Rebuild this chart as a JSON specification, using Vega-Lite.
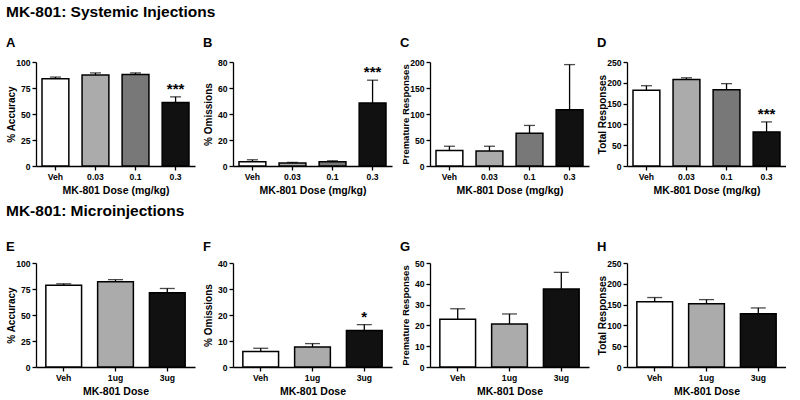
{
  "$schema": "https://vega.github.io/schema/vega-lite/v6.json",
  "padding": {"left": 6, "top": 4, "right": 0, "bottom": 0},
  "config": {
    "view": {"stroke": null},
    "font": "Liberation Sans",
    "axis": {
      "domainColor": "black", "domainWidth": 1.3, "tickColor": "black", "tickWidth": 1.3, "tickSize": 4,
      "labelFont": "Liberation Sans", "labelFontWeight": "bold", "labelFontSize": 8.6, "labelColor": "black", "labelPadding": 2,
      "titleFont": "Liberation Sans", "titleFontWeight": "bold", "titleFontSize": 10.5, "titleColor": "black",
      "grid": false
    },
    "axisX": {"labelAngle": 0, "titlePadding": 5},
    "title": {"font": "Liberation Sans", "fontWeight": "bold", "color": "black", "anchor": "start"}
  },
  "data": {"values": [
    {"panel": "A", "dose": "Veh", "mean": 84, "upper": 85.5, "sig": ""},
    {"panel": "A", "dose": "0.03", "mean": 87.5, "upper": 89.5, "sig": ""},
    {"panel": "A", "dose": "0.1", "mean": 88, "upper": 89.5, "sig": ""},
    {"panel": "A", "dose": "0.3", "mean": 61, "upper": 66.5, "sig": "***"},
    {"panel": "B", "dose": "Veh", "mean": 3.3, "upper": 4.8, "sig": ""},
    {"panel": "B", "dose": "0.03", "mean": 2.3, "upper": 2.8, "sig": ""},
    {"panel": "B", "dose": "0.1", "mean": 3.2, "upper": 4.0, "sig": ""},
    {"panel": "B", "dose": "0.3", "mean": 48.5, "upper": 66, "sig": "***"},
    {"panel": "C", "dose": "Veh", "mean": 30, "upper": 38, "sig": ""},
    {"panel": "C", "dose": "0.03", "mean": 29, "upper": 38, "sig": ""},
    {"panel": "C", "dose": "0.1", "mean": 63, "upper": 78, "sig": ""},
    {"panel": "C", "dose": "0.3", "mean": 108, "upper": 195, "sig": ""},
    {"panel": "D", "dose": "Veh", "mean": 182, "upper": 193, "sig": ""},
    {"panel": "D", "dose": "0.03", "mean": 208, "upper": 212, "sig": ""},
    {"panel": "D", "dose": "0.1", "mean": 183, "upper": 198, "sig": ""},
    {"panel": "D", "dose": "0.3", "mean": 82, "upper": 106, "sig": "***"},
    {"panel": "E", "dose": "Veh", "mean": 78.5, "upper": 80, "sig": ""},
    {"panel": "E", "dose": "1ug", "mean": 82, "upper": 84, "sig": ""},
    {"panel": "E", "dose": "3ug", "mean": 71.5, "upper": 75.5, "sig": ""},
    {"panel": "F", "dose": "Veh", "mean": 6, "upper": 7.2, "sig": ""},
    {"panel": "F", "dose": "1ug", "mean": 7.7, "upper": 9, "sig": ""},
    {"panel": "F", "dose": "3ug", "mean": 14, "upper": 16.3, "sig": "*"},
    {"panel": "G", "dose": "Veh", "mean": 23, "upper": 28, "sig": ""},
    {"panel": "G", "dose": "1ug", "mean": 20.7, "upper": 25.5, "sig": ""},
    {"panel": "G", "dose": "3ug", "mean": 37.5, "upper": 45.5, "sig": ""},
    {"panel": "H", "dose": "Veh", "mean": 157, "upper": 167, "sig": ""},
    {"panel": "H", "dose": "1ug", "mean": 152, "upper": 162, "sig": ""},
    {"panel": "H", "dose": "3ug", "mean": 128, "upper": 142, "sig": ""}
  ]},
  "vconcat": [
    {
      "title": {"text": "MK-801: Systemic Injections", "fontSize": 15.5, "offset": 17},
      "spacing": 8,
      "hconcat": [
        {
          "title": {"text": "A", "fontSize": 13, "frame": "bounds", "offset": 8},
          "width": 159, "height": 104,
          "transform": [{"filter": "datum.panel === 'A'"}],
          "encoding": {"x": {"field": "dose", "type": "nominal", "sort": ["Veh", "0.03", "0.1", "0.3"], "scale": {"paddingInner": 0.33, "paddingOuter": 0.15}, "axis": {"title": "MK-801 Dose (mg/kg)"}}},
          "layer": [
            {"mark": {"type": "bar", "stroke": "black", "strokeWidth": 1.5},
             "encoding": {"y": {"field": "mean", "type": "quantitative", "scale": {"domain": [0, 100], "nice": false}, "axis": {"title": "% Accuracy", "titleFontSize": 10, "values": [0, 25, 50, 75, 100], "minExtent": 18, "maxExtent": 18, "titlePadding": 2}},
               "fill": {"field": "dose", "type": "nominal", "legend": null, "scale": {"domain": ["Veh", "0.03", "0.1", "0.3", "1ug", "3ug"], "range": ["#ffffff", "#ababab", "#787878", "#111111", "#ababab", "#111111"]}}}},
            {"mark": {"type": "rule", "color": "black", "strokeWidth": 1.3}, "encoding": {"y": {"field": "mean", "type": "quantitative", "axis": {"title": "% Accuracy", "titleFontSize": 10, "values": [0, 25, 50, 75, 100], "minExtent": 18, "maxExtent": 18, "titlePadding": 2}}, "y2": {"field": "upper"}}},
            {"mark": {"type": "tick", "color": "black", "thickness": 1.3, "size": 11}, "encoding": {"y": {"field": "upper", "type": "quantitative", "axis": {"title": "% Accuracy", "titleFontSize": 10, "values": [0, 25, 50, 75, 100], "minExtent": 18, "maxExtent": 18, "titlePadding": 2}}}},
            {"transform": [{"filter": "datum.sig !== ''"}], "mark": {"type": "text", "fontSize": 15, "fontWeight": "bold", "baseline": "alphabetic", "dy": -3, "color": "black"}, "encoding": {"y": {"field": "upper", "type": "quantitative", "axis": {"title": "% Accuracy", "titleFontSize": 10, "values": [0, 25, 50, 75, 100], "minExtent": 18, "maxExtent": 18, "titlePadding": 2}}, "text": {"field": "sig"}}}
          ]
        },
        {
          "title": {"text": "B", "fontSize": 13, "frame": "bounds", "offset": 8},
          "width": 159, "height": 104,
          "transform": [{"filter": "datum.panel === 'B'"}],
          "encoding": {"x": {"field": "dose", "type": "nominal", "sort": ["Veh", "0.03", "0.1", "0.3"], "scale": {"paddingInner": 0.33, "paddingOuter": 0.15}, "axis": {"title": "MK-801 Dose (mg/kg)"}}},
          "layer": [
            {"mark": {"type": "bar", "stroke": "black", "strokeWidth": 1.5},
             "encoding": {"y": {"field": "mean", "type": "quantitative", "scale": {"domain": [0, 80], "nice": false}, "axis": {"title": "% Omissions", "titleFontSize": 10, "values": [0, 20, 40, 60, 80], "minExtent": 18, "maxExtent": 18, "titlePadding": 2}},
               "fill": {"field": "dose", "type": "nominal", "legend": null, "scale": {"domain": ["Veh", "0.03", "0.1", "0.3", "1ug", "3ug"], "range": ["#ffffff", "#ababab", "#787878", "#111111", "#ababab", "#111111"]}}}},
            {"mark": {"type": "rule", "color": "black", "strokeWidth": 1.3}, "encoding": {"y": {"field": "mean", "type": "quantitative", "axis": {"title": "% Omissions", "titleFontSize": 10, "values": [0, 20, 40, 60, 80], "minExtent": 18, "maxExtent": 18, "titlePadding": 2}}, "y2": {"field": "upper"}}},
            {"mark": {"type": "tick", "color": "black", "thickness": 1.3, "size": 11}, "encoding": {"y": {"field": "upper", "type": "quantitative", "axis": {"title": "% Omissions", "titleFontSize": 10, "values": [0, 20, 40, 60, 80], "minExtent": 18, "maxExtent": 18, "titlePadding": 2}}}},
            {"transform": [{"filter": "datum.sig !== ''"}], "mark": {"type": "text", "fontSize": 15, "fontWeight": "bold", "baseline": "alphabetic", "dy": -3, "color": "black"}, "encoding": {"y": {"field": "upper", "type": "quantitative", "axis": {"title": "% Omissions", "titleFontSize": 10, "values": [0, 20, 40, 60, 80], "minExtent": 18, "maxExtent": 18, "titlePadding": 2}}, "text": {"field": "sig"}}}
          ]
        },
        {
          "title": {"text": "C", "fontSize": 13, "frame": "bounds", "offset": 8},
          "width": 159, "height": 104,
          "transform": [{"filter": "datum.panel === 'C'"}],
          "encoding": {"x": {"field": "dose", "type": "nominal", "sort": ["Veh", "0.03", "0.1", "0.3"], "scale": {"paddingInner": 0.33, "paddingOuter": 0.15}, "axis": {"title": "MK-801 Dose (mg/kg)"}}},
          "layer": [
            {"mark": {"type": "bar", "stroke": "black", "strokeWidth": 1.5},
             "encoding": {"y": {"field": "mean", "type": "quantitative", "scale": {"domain": [0, 200], "nice": false}, "axis": {"title": "Premature Responses", "titleFontSize": 9.5, "values": [0, 50, 100, 150, 200], "minExtent": 18, "maxExtent": 18, "titlePadding": 2}},
               "fill": {"field": "dose", "type": "nominal", "legend": null, "scale": {"domain": ["Veh", "0.03", "0.1", "0.3", "1ug", "3ug"], "range": ["#ffffff", "#ababab", "#787878", "#111111", "#ababab", "#111111"]}}}},
            {"mark": {"type": "rule", "color": "black", "strokeWidth": 1.3}, "encoding": {"y": {"field": "mean", "type": "quantitative", "axis": {"title": "Premature Responses", "titleFontSize": 9.5, "values": [0, 50, 100, 150, 200], "minExtent": 18, "maxExtent": 18, "titlePadding": 2}}, "y2": {"field": "upper"}}},
            {"mark": {"type": "tick", "color": "black", "thickness": 1.3, "size": 11}, "encoding": {"y": {"field": "upper", "type": "quantitative", "axis": {"title": "Premature Responses", "titleFontSize": 9.5, "values": [0, 50, 100, 150, 200], "minExtent": 18, "maxExtent": 18, "titlePadding": 2}}}}
          ]
        },
        {
          "title": {"text": "D", "fontSize": 13, "frame": "bounds", "offset": 8},
          "width": 159, "height": 104,
          "transform": [{"filter": "datum.panel === 'D'"}],
          "encoding": {"x": {"field": "dose", "type": "nominal", "sort": ["Veh", "0.03", "0.1", "0.3"], "scale": {"paddingInner": 0.33, "paddingOuter": 0.15}, "axis": {"title": "MK-801 Dose (mg/kg)"}}},
          "layer": [
            {"mark": {"type": "bar", "stroke": "black", "strokeWidth": 1.5},
             "encoding": {"y": {"field": "mean", "type": "quantitative", "scale": {"domain": [0, 250], "nice": false}, "axis": {"title": "Total Responses", "titleFontSize": 10, "values": [0, 50, 100, 150, 200, 250], "minExtent": 18, "maxExtent": 18, "titlePadding": 2}},
               "fill": {"field": "dose", "type": "nominal", "legend": null, "scale": {"domain": ["Veh", "0.03", "0.1", "0.3", "1ug", "3ug"], "range": ["#ffffff", "#ababab", "#787878", "#111111", "#ababab", "#111111"]}}}},
            {"mark": {"type": "rule", "color": "black", "strokeWidth": 1.3}, "encoding": {"y": {"field": "mean", "type": "quantitative", "axis": {"title": "Total Responses", "titleFontSize": 10, "values": [0, 50, 100, 150, 200, 250], "minExtent": 18, "maxExtent": 18, "titlePadding": 2}}, "y2": {"field": "upper"}}},
            {"mark": {"type": "tick", "color": "black", "thickness": 1.3, "size": 11}, "encoding": {"y": {"field": "upper", "type": "quantitative", "axis": {"title": "Total Responses", "titleFontSize": 10, "values": [0, 50, 100, 150, 200, 250], "minExtent": 18, "maxExtent": 18, "titlePadding": 2}}}},
            {"transform": [{"filter": "datum.sig !== ''"}], "mark": {"type": "text", "fontSize": 15, "fontWeight": "bold", "baseline": "alphabetic", "dy": -3, "color": "black"}, "encoding": {"y": {"field": "upper", "type": "quantitative", "axis": {"title": "Total Responses", "titleFontSize": 10, "values": [0, 50, 100, 150, 200, 250], "minExtent": 18, "maxExtent": 18, "titlePadding": 2}}, "text": {"field": "sig"}}}
          ]
        }
      ]
    },
    {
      "title": {"text": "MK-801: Microinjections", "fontSize": 15.5, "offset": 22},
      "spacing": 8,
      "hconcat": [
        {
          "title": {"text": "E", "fontSize": 13, "frame": "bounds", "offset": 5},
          "width": 159, "height": 104,
          "transform": [{"filter": "datum.panel === 'E'"}],
          "encoding": {"x": {"field": "dose", "type": "nominal", "sort": ["Veh", "1ug", "3ug"], "scale": {"paddingInner": 0.31, "paddingOuter": 0.19}, "axis": {"title": "MK-801 Dose"}}},
          "layer": [
            {"mark": {"type": "bar", "stroke": "black", "strokeWidth": 1.5},
             "encoding": {"y": {"field": "mean", "type": "quantitative", "scale": {"domain": [0, 100], "nice": false}, "axis": {"title": "% Accuracy", "titleFontSize": 10, "values": [0, 25, 50, 75, 100], "minExtent": 18, "maxExtent": 18, "titlePadding": 2}},
               "fill": {"field": "dose", "type": "nominal", "legend": null, "scale": {"domain": ["Veh", "0.03", "0.1", "0.3", "1ug", "3ug"], "range": ["#ffffff", "#ababab", "#787878", "#111111", "#ababab", "#111111"]}}}},
            {"mark": {"type": "rule", "color": "black", "strokeWidth": 1.3}, "encoding": {"y": {"field": "mean", "type": "quantitative", "axis": {"title": "% Accuracy", "titleFontSize": 10, "values": [0, 25, 50, 75, 100], "minExtent": 18, "maxExtent": 18, "titlePadding": 2}}, "y2": {"field": "upper"}}},
            {"mark": {"type": "tick", "color": "black", "thickness": 1.3, "size": 15}, "encoding": {"y": {"field": "upper", "type": "quantitative", "axis": {"title": "% Accuracy", "titleFontSize": 10, "values": [0, 25, 50, 75, 100], "minExtent": 18, "maxExtent": 18, "titlePadding": 2}}}}
          ]
        },
        {
          "title": {"text": "F", "fontSize": 13, "frame": "bounds", "offset": 5},
          "width": 159, "height": 104,
          "transform": [{"filter": "datum.panel === 'F'"}],
          "encoding": {"x": {"field": "dose", "type": "nominal", "sort": ["Veh", "1ug", "3ug"], "scale": {"paddingInner": 0.31, "paddingOuter": 0.19}, "axis": {"title": "MK-801 Dose"}}},
          "layer": [
            {"mark": {"type": "bar", "stroke": "black", "strokeWidth": 1.5},
             "encoding": {"y": {"field": "mean", "type": "quantitative", "scale": {"domain": [0, 40], "nice": false}, "axis": {"title": "% Omissions", "titleFontSize": 10, "values": [0, 10, 20, 30, 40], "minExtent": 18, "maxExtent": 18, "titlePadding": 2}},
               "fill": {"field": "dose", "type": "nominal", "legend": null, "scale": {"domain": ["Veh", "0.03", "0.1", "0.3", "1ug", "3ug"], "range": ["#ffffff", "#ababab", "#787878", "#111111", "#ababab", "#111111"]}}}},
            {"mark": {"type": "rule", "color": "black", "strokeWidth": 1.3}, "encoding": {"y": {"field": "mean", "type": "quantitative", "axis": {"title": "% Omissions", "titleFontSize": 10, "values": [0, 10, 20, 30, 40], "minExtent": 18, "maxExtent": 18, "titlePadding": 2}}, "y2": {"field": "upper"}}},
            {"mark": {"type": "tick", "color": "black", "thickness": 1.3, "size": 15}, "encoding": {"y": {"field": "upper", "type": "quantitative", "axis": {"title": "% Omissions", "titleFontSize": 10, "values": [0, 10, 20, 30, 40], "minExtent": 18, "maxExtent": 18, "titlePadding": 2}}}},
            {"transform": [{"filter": "datum.sig !== ''"}], "mark": {"type": "text", "fontSize": 15, "fontWeight": "bold", "baseline": "alphabetic", "dy": -3, "color": "black"}, "encoding": {"y": {"field": "upper", "type": "quantitative", "axis": {"title": "% Omissions", "titleFontSize": 10, "values": [0, 10, 20, 30, 40], "minExtent": 18, "maxExtent": 18, "titlePadding": 2}}, "text": {"field": "sig"}}}
          ]
        },
        {
          "title": {"text": "G", "fontSize": 13, "frame": "bounds", "offset": 5},
          "width": 159, "height": 104,
          "transform": [{"filter": "datum.panel === 'G'"}],
          "encoding": {"x": {"field": "dose", "type": "nominal", "sort": ["Veh", "1ug", "3ug"], "scale": {"paddingInner": 0.31, "paddingOuter": 0.19}, "axis": {"title": "MK-801 Dose"}}},
          "layer": [
            {"mark": {"type": "bar", "stroke": "black", "strokeWidth": 1.5},
             "encoding": {"y": {"field": "mean", "type": "quantitative", "scale": {"domain": [0, 50], "nice": false}, "axis": {"title": "Premature Responses", "titleFontSize": 9.5, "values": [0, 10, 20, 30, 40, 50], "minExtent": 18, "maxExtent": 18, "titlePadding": 2}},
               "fill": {"field": "dose", "type": "nominal", "legend": null, "scale": {"domain": ["Veh", "0.03", "0.1", "0.3", "1ug", "3ug"], "range": ["#ffffff", "#ababab", "#787878", "#111111", "#ababab", "#111111"]}}}},
            {"mark": {"type": "rule", "color": "black", "strokeWidth": 1.3}, "encoding": {"y": {"field": "mean", "type": "quantitative", "axis": {"title": "Premature Responses", "titleFontSize": 9.5, "values": [0, 10, 20, 30, 40, 50], "minExtent": 18, "maxExtent": 18, "titlePadding": 2}}, "y2": {"field": "upper"}}},
            {"mark": {"type": "tick", "color": "black", "thickness": 1.3, "size": 15}, "encoding": {"y": {"field": "upper", "type": "quantitative", "axis": {"title": "Premature Responses", "titleFontSize": 9.5, "values": [0, 10, 20, 30, 40, 50], "minExtent": 18, "maxExtent": 18, "titlePadding": 2}}}}
          ]
        },
        {
          "title": {"text": "H", "fontSize": 13, "frame": "bounds", "offset": 5},
          "width": 159, "height": 104,
          "transform": [{"filter": "datum.panel === 'H'"}],
          "encoding": {"x": {"field": "dose", "type": "nominal", "sort": ["Veh", "1ug", "3ug"], "scale": {"paddingInner": 0.31, "paddingOuter": 0.19}, "axis": {"title": "MK-801 Dose"}}},
          "layer": [
            {"mark": {"type": "bar", "stroke": "black", "strokeWidth": 1.5},
             "encoding": {"y": {"field": "mean", "type": "quantitative", "scale": {"domain": [0, 250], "nice": false}, "axis": {"title": "Total Responses", "titleFontSize": 10, "values": [0, 50, 100, 150, 200, 250], "minExtent": 18, "maxExtent": 18, "titlePadding": 2}},
               "fill": {"field": "dose", "type": "nominal", "legend": null, "scale": {"domain": ["Veh", "0.03", "0.1", "0.3", "1ug", "3ug"], "range": ["#ffffff", "#ababab", "#787878", "#111111", "#ababab", "#111111"]}}}},
            {"mark": {"type": "rule", "color": "black", "strokeWidth": 1.3}, "encoding": {"y": {"field": "mean", "type": "quantitative", "axis": {"title": "Total Responses", "titleFontSize": 10, "values": [0, 50, 100, 150, 200, 250], "minExtent": 18, "maxExtent": 18, "titlePadding": 2}}, "y2": {"field": "upper"}}},
            {"mark": {"type": "tick", "color": "black", "thickness": 1.3, "size": 15}, "encoding": {"y": {"field": "upper", "type": "quantitative", "axis": {"title": "Total Responses", "titleFontSize": 10, "values": [0, 50, 100, 150, 200, 250], "minExtent": 18, "maxExtent": 18, "titlePadding": 2}}}}
          ]
        }
      ]
    }
  ],
  "spacing": 6
}
